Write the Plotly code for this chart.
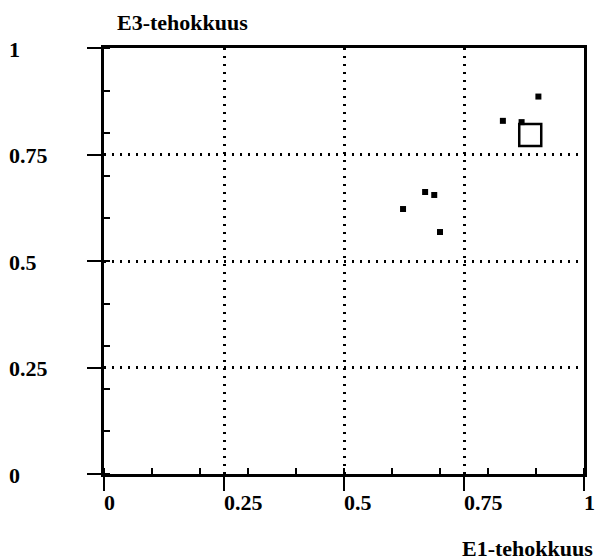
import plotly.graph_objects as go

# ---- data ----
e1_eff = [0.623, 0.669, 0.688, 0.700, 0.831, 0.870, 0.905]
e3_eff = [0.622, 0.662, 0.655, 0.568, 0.829, 0.826, 0.886]
ref_x = [0.888]
ref_y = [0.796]
tick_vals = [0, 0.25, 0.5, 0.75, 1]
tick_text = ["0", "0.25", "0.5", "0.75", "1"]
x_title = "E1-tehokkuus"
y_title = "E3-tehokkuus"

FONT = dict(family="Liberation Serif, Times New Roman, serif", size=22,
            color="black", weight="bold")

fig = go.Figure()
fig.add_trace(go.Scatter(
    x=e1_eff, y=e3_eff, mode="markers",
    marker=dict(symbol="square", size=6, color="black"),
    showlegend=False, hoverinfo="skip"))
fig.add_trace(go.Scatter(
    x=ref_x, y=ref_y, mode="markers",
    marker=dict(symbol="square-open", size=22, color="black",
                line=dict(width=2.5, color="black")),
    showlegend=False, hoverinfo="skip"))

axis_common = dict(
    range=[0, 1], tickvals=tick_vals, showticklabels=False,
    showline=True, linecolor="black", linewidth=2.5, mirror=True,
    ticks="outside", ticklen=14, tickwidth=2, tickcolor="black",
    showgrid=True, gridcolor="black", gridwidth=2.5, griddash="2px,6px",
    zeroline=False,
    minor=dict(ticks="inside", dtick=0.1, tick0=0, ticklen=6,
               tickwidth=1.5, tickcolor="black", showgrid=False),
)
fig.update_xaxes(**axis_common)
fig.update_yaxes(**axis_common)

annotations = []
for v, t in zip(tick_vals, tick_text):
    annotations.append(dict(x=v, xref="x", y=-0.068, yref="paper",
                            text=t, showarrow=False, xanchor="left",
                            yanchor="middle", xshift=-2, font=FONT))
    annotations.append(dict(x=-0.202, xref="paper", y=v, yref="y",
                            text=t, showarrow=False, xanchor="left",
                            yanchor="middle", yshift=-1, font=FONT))
annotations.append(dict(x=0.023, xref="paper", y=1.061, yref="paper",
                        text=y_title, showarrow=False, xanchor="left",
                        yanchor="middle", font=FONT))
annotations.append(dict(x=0.742, xref="paper", y=-0.174, yref="paper",
                        text=x_title, showarrow=False, xanchor="left",
                        yanchor="middle", font=FONT))

fig.update_layout(
    width=598, height=560,
    margin=dict(l=104, r=14, t=48, b=86),
    paper_bgcolor="white", plot_bgcolor="white",
    annotations=annotations,
)

fig.write_html("out.html",
               config={"displayModeBar": False},
               post_script="document.body.style.margin='0';"
                           "document.body.style.overflow='hidden';")
